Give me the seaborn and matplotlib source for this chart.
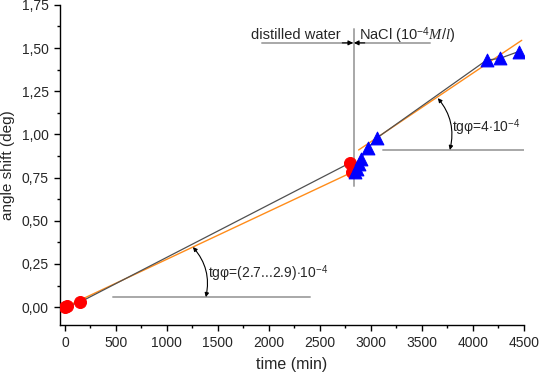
import numpy as np
import pandas as pd
from matplotlib import pyplot as plt
import seaborn as sns

# measured points, distilled water (red circles)
water_time = [0, 20, 150, 2795, 2815]
water_shift = [0.0, 0.005, 0.03, 0.835, 0.785]

# measured points, NaCl 1e-4 M/l (blue triangles)
nacl_time = [2840, 2860, 2880, 2900, 2970, 3060, 4135, 4265, 4450]
nacl_shift = [0.78, 0.80, 0.83, 0.86, 0.92, 0.98, 1.43, 1.44, 1.48]

# linear fits (orange)
fit_water_time = [0, 2830]
fit_water_shift = [0.0, 0.785]
fit_nacl_time = [2880, 4480]
fit_nacl_shift = [0.91, 1.545]

x_ticks = [0, 500, 1000, 1500, 2000, 2500, 3000, 3500, 4000, 4500]
y_ticks = [0.0, 0.25, 0.5, 0.75, 1.0, 1.25, 1.5, 1.75]

sns.set_style("ticks")
plt.rcParams['font.family'] = ['Liberation Sans', 'DejaVu Sans']
plt.rcParams['mathtext.fontset'] = 'custom'
plt.rcParams['mathtext.rm'] = 'Liberation Sans'
plt.rcParams['mathtext.it'] = 'Liberation Serif:italic'

fig = plt.figure(figsize=(5.4, 3.75), dpi=100)
ax = fig.add_axes([0.111, 0.133, 0.859, 0.854])

water = pd.DataFrame({'t': water_time, 'y': water_shift})
nacl = pd.DataFrame({'t': nacl_time, 'y': nacl_shift})

# fitted lines
sns.lineplot(x=fit_water_time, y=fit_water_shift, color='#ff8c1a', lw=1.0, ax=ax, zorder=2)
sns.lineplot(x=fit_nacl_time, y=fit_nacl_shift, color='#ff8c1a', lw=1.0, ax=ax, zorder=2)

# connecting lines + symbols
sns.lineplot(data=water, x='t', y='y', color='#505050', lw=0.9, ax=ax, zorder=3)
sns.lineplot(data=nacl, x='t', y='y', color='#505050', lw=0.9, ax=ax, zorder=3)
sns.scatterplot(data=water, x='t', y='y', color='#ff0000', edgecolor='#ff0000',
                marker='o', s=75, ax=ax, zorder=4)
sns.scatterplot(data=nacl, x='t', y='y', color='#0000ff', edgecolor='#0000ff',
                marker='^', s=85, ax=ax, zorder=4)

# annotations
gray = '#a8a8a8'
ax.plot([2830, 2830], [0.70, 1.61], color=gray, lw=1.4, zorder=1)
ax.plot([1930, 3580], [1.53, 1.53], color=gray, lw=1.4, zorder=1)
ax.annotate('', xy=(2826, 1.53), xytext=(2720, 1.53),
            arrowprops=dict(arrowstyle='-|>', color='black', lw=0.8,
                            mutation_scale=7, shrinkA=0, shrinkB=0))
ax.annotate('', xy=(2834, 1.53), xytext=(2940, 1.53),
            arrowprops=dict(arrowstyle='-|>', color='black', lw=0.8,
                            mutation_scale=7, shrinkA=0, shrinkB=0))
ax.text(2700, 1.575, 'distilled water', ha='right', va='center', fontsize=10.5)
ax.text(2880, 1.575, r'NaCl (10$^{-4}$$\mathit{M/l}$)', ha='left', va='center', fontsize=10.5)

ax.plot([470, 2400], [0.058, 0.058], color=gray, lw=1.4, zorder=1)
ax.annotate('', xy=(1382, 0.058), xytext=(1255, 0.348),
            arrowprops=dict(arrowstyle='<|-|>', color='black', lw=0.8,
                            connectionstyle='arc3,rad=-0.25',
                            mutation_scale=6, shrinkA=0, shrinkB=0))
ax.text(1400, 0.195, r'tg$\mathregular{\varphi}$=(2.7...2.9)$\cdot$10$^{-4}$',
        ha='left', va='center', fontsize=10)

ax.plot([3120, 4510], [0.91, 0.91], color=gray, lw=1.4, zorder=1)
ax.annotate('', xy=(3775, 0.91), xytext=(3657, 1.21),
            arrowprops=dict(arrowstyle='<|-|>', color='black', lw=0.8,
                            connectionstyle='arc3,rad=-0.25',
                            mutation_scale=6, shrinkA=0, shrinkB=0))
ax.text(3800, 1.04, r'tg$\mathregular{\varphi}$=4$\cdot$10$^{-4}$',
        ha='left', va='center', fontsize=10)

ax.set_xlim(-49, 4500)
ax.set_ylim(-0.104, 1.75)
ax.set_xticks(x_ticks)
ax.set_yticks(y_ticks)
ax.set_xticks(np.arange(250, 4500, 500), minor=True)
ax.set_yticks(np.arange(0.125, 1.75, 0.25), minor=True)
ax.set_yticklabels([f'{v:.2f}'.replace('.', ',') for v in y_ticks])
ax.tick_params(axis='both', which='major', length=4.5, width=1.0, labelsize=10, color='black')
ax.tick_params(axis='both', which='minor', length=2.5, width=1.0, color='black')
ax.set_xlabel('time (min)', fontsize=11.5, labelpad=5)
ax.set_ylabel('angle shift (deg)', fontsize=11, labelpad=5)
for side in ['top', 'right']:
    ax.spines[side].set_visible(False)
for side in ['left', 'bottom']:
    ax.spines[side].set_color('black')
    ax.spines[side].set_linewidth(1.0)

fig.savefig('out.png', dpi=100)
